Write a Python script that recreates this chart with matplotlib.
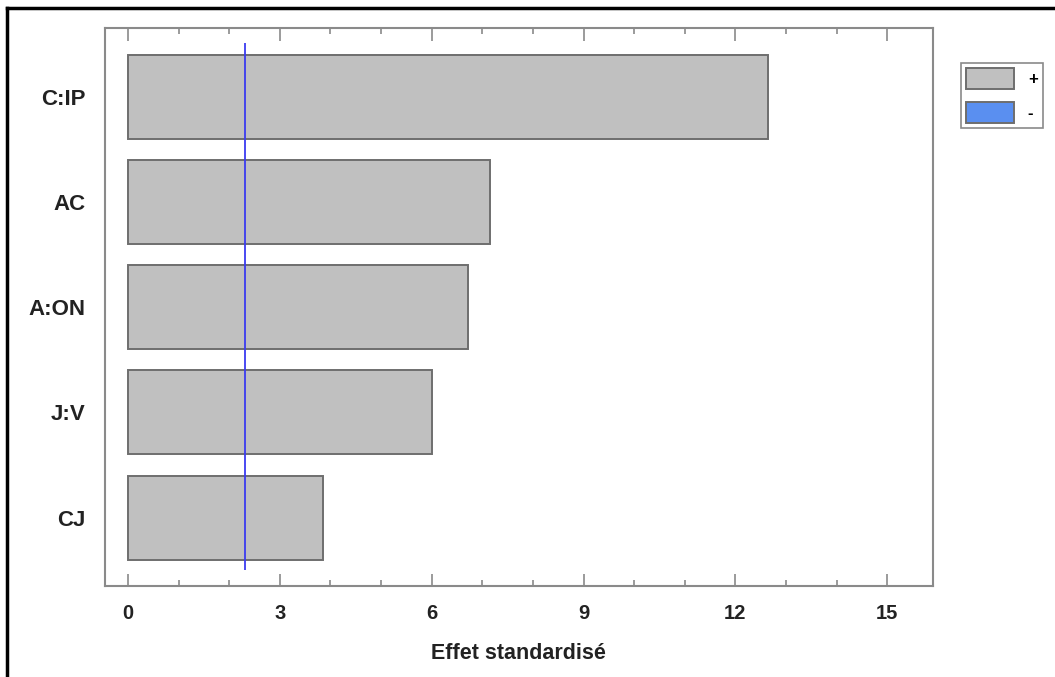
import matplotlib
matplotlib.use("Agg")
import matplotlib.pyplot as plt
from matplotlib.patches import Patch
from matplotlib.lines import Line2D
from matplotlib.ticker import MultipleLocator

plt.rcParams["font.family"] = ["Liberation Sans", "DejaVu Sans"]
plt.rcParams["font.weight"] = "bold"
plt.rcParams["axes.labelweight"] = "bold"

# Standardized effects (Pareto chart), largest on top
effects = ["C:IP", "AC", "A:ON", "J:V", "CJ"]
values = [12.64, 7.15, 6.71, 6.00, 3.85]
signs = ["+", "+", "+", "+", "+"]
t_critical = 2.31

bar_gray = "#c0c0c0"
bar_edge = "#6e6e6e"
neg_blue = "#5a8ff0"
axis_gray = "#8a8a8a"
text_col = "#222222"

fig = plt.figure(figsize=(10.55, 6.77), dpi=100)
ax = fig.add_axes([0.0995, 0.1344, 0.7846, 0.8242])

ypos = list(range(len(effects)))[::-1]
colors = [bar_gray if s == "+" else neg_blue for s in signs]
ax.barh(ypos, values, height=0.8, color=colors, edgecolor=bar_edge, linewidth=1.4)
ax.vlines(t_critical, -0.5, 4.52, color="#3b3bf0", linewidth=1.3)

ax.set_xlim(-0.455, 15.9)
ax.set_ylim(-0.652, 4.66)
ax.set_yticks(ypos)
ax.set_yticklabels(effects)
ax.xaxis.set_major_locator(MultipleLocator(3))
ax.xaxis.set_minor_locator(MultipleLocator(1))

for sp in ax.spines.values():
    sp.set_color(axis_gray)
    sp.set_linewidth(1.5)

ax.tick_params(axis="x", which="both", direction="in", top=True, bottom=True,
               color=axis_gray, width=1.2, labelcolor=text_col, labelsize=14.5)
ax.tick_params(axis="x", which="major", length=9, pad=13)
ax.tick_params(axis="x", which="minor", length=4)
ax.tick_params(axis="y", length=0, pad=14, labelsize=16, labelcolor=text_col)

ax.set_xlabel("Effet standardisé", fontsize=15.5, color=text_col, labelpad=14)

# legend for sign of effect
handles = [Patch(facecolor=bar_gray, edgecolor=bar_edge, linewidth=1.4),
           Patch(facecolor=neg_blue, edgecolor=bar_edge, linewidth=1.4)]
leg = fig.legend(handles, ["+", "-"], loc="upper left",
                 bbox_to_anchor=(0.911, 0.907), fancybox=False,
                 edgecolor=axis_gray, framealpha=1, fontsize=12,
                 handlelength=2.9, handleheight=1.6, handletextpad=0.8,
                 borderpad=0.3, borderaxespad=0, labelspacing=0.75)
leg.get_frame().set_linewidth(1.2)

# frame lines on the left and top of the figure
fig.add_artist(Line2D([7 / 1055, 7 / 1055], [0, 1 - 8 / 677], color="black",
                      linewidth=2.5, transform=fig.transFigure))
fig.add_artist(Line2D([7 / 1055, 1], [1 - 8 / 677, 1 - 8 / 677], color="black",
                      linewidth=2.5, transform=fig.transFigure))

fig.savefig("out.png", dpi=100)
